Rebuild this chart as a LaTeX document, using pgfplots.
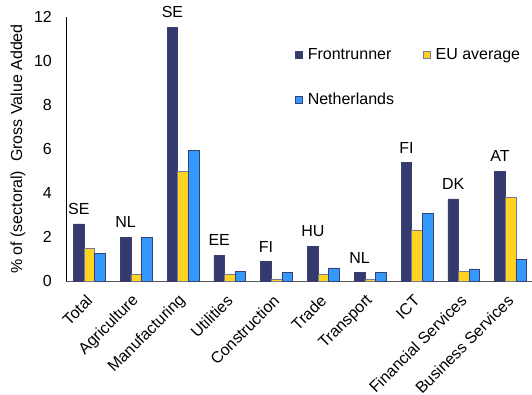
\documentclass[border=0pt]{standalone}
\usepackage{pgfplots}
\pgfplotsset{compat=1.18}
\usepackage{fontspec}
\setmainfont{Liberation Sans}
\definecolor{frc}{HTML}{343A6E}
\definecolor{euc}{HTML}{FFD320}
\definecolor{nlc}{HTML}{3399FF}
\definecolor{edge}{HTML}{3A3F70}
\newcommand{\cf}{\fontsize{16}{19}\selectfont}
\begin{document}
\cf
\begin{tikzpicture}[x=1pt,y=1pt]
\useasboundingbox (0,0) rectangle (532,394);
\begin{axis}[
  at={(66pt,113pt)}, anchor=south west,
  scale only axis, width=466pt, height=264pt,
  xmin=-0.5, xmax=9.457, ymin=0, ymax=12,
  ybar=0pt, bar width=0.226,
  axis x line*=bottom, axis y line*=left,
  x axis line style={draw=black!65, line width=0.9pt},
  y axis line style={draw=black, line width=0.7pt},
  xtick={0,...,9},
  xticklabels={Total,Agriculture,Manufacturing,Utilities,Construction,Trade,Transport,ICT,Financial Services,Business Services},
  ytick={0,2,...,12},
  major tick length=0pt, tick style={draw=none},
  /pgf/number format/assume math mode=true,
  tick label style={font=\cf, text=black},
  xticklabel style={anchor=east, inner sep=0pt, xshift=0pt, yshift=-17pt, rotate=45},
  yticklabel style={inner sep=0pt, xshift=-14pt},
  ylabel={\% of (sectoral)\ \ Gross Value Added},
  ylabel style={at={(axis description cs:-0.103,0.5)}, anchor=center, font=\cf},
  legend columns=2,
  legend cell align=left,
  legend style={at={(rel axis cs:0.4914,0.882)}, anchor=north west, draw=none, fill=none, font=\cf,
    inner sep=0pt, nodes={inner sep=0pt},
    /tikz/every odd column/.append style={column sep=5pt},
    /tikz/every even column/.append style={column sep=29pt},
    row sep=31pt},
  legend image code/.code={\draw[#1] (0pt,-3.5pt) rectangle (7pt,3.5pt);},
]
\addplot[fill=frc, draw=edge, line width=0.6pt,
  nodes near coords, point meta=explicit symbolic,
  nodes near coords style={font=\cf, text=black, anchor=south, inner sep=0pt, yshift=9pt}]
  coordinates {(0,2.6)[SE] (1,2.0)[NL] (2,11.53)[SE] (3,1.17)[EE] (4,0.89)[FI] (5,1.59)[HU] (6,0.39)[NL] (7,5.38)[FI] (8,3.73)[DK] (9,4.99)[AT]};
\addlegendentry{Frontrunner}
\addplot[fill=euc, draw=edge!70, line width=0.6pt]
  coordinates {(0,1.5) (1,0.29) (2,4.97) (3,0.29) (4,0.1) (5,0.29) (6,0.06) (7,2.32) (8,0.42) (9,3.82)};
\addlegendentry{EU average}
\addplot[fill=nlc, draw=edge, line width=0.6pt]
  coordinates {(0,1.27) (1,2.0) (2,5.95) (3,0.44) (4,0.38) (5,0.6) (6,0.38) (7,3.08) (8,0.55) (9,1.0)};
\addlegendentry{Netherlands}
\end{axis}
\end{tikzpicture}
\end{document}
